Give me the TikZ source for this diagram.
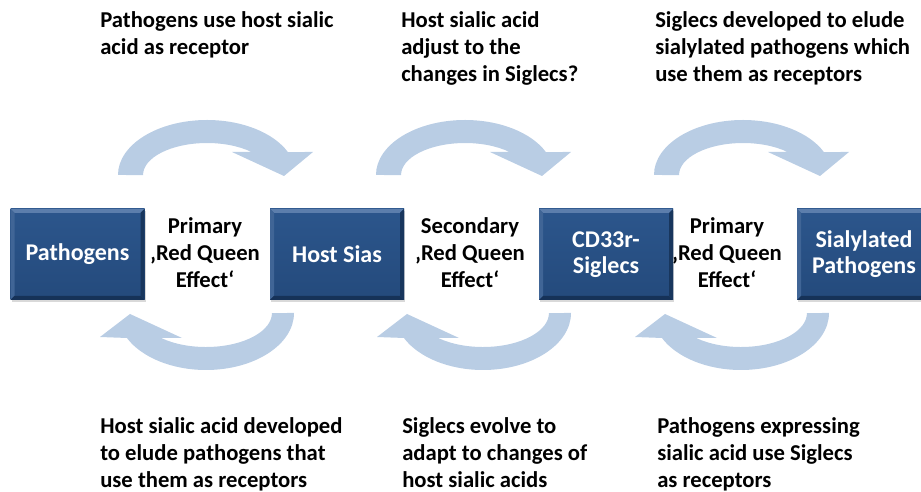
\documentclass[tikz,border=0pt]{standalone}
\usepackage{fontspec}
\setmainfont{Carlito}
\usepackage{tikz}
\usetikzlibrary{calc,shadows}

\definecolor{boxblue}{RGB}{36,74,124}
\definecolor{boxtop}{RGB}{44,86,140}
\definecolor{bevlight}{RGB}{92,126,172}
\definecolor{bevmid}{RGB}{64,101,150}
\definecolor{bevdark}{RGB}{22,50,88}
\definecolor{arrowblue}{RGB}{185,205,228}

\tikzset{
  sbox/.style={top color=boxtop, bottom color=boxblue, text=white, align=center,
    inner sep=0pt, minimum width=100.5pt, minimum height=68.25pt,
    font=\fontsize{18}{19.5}\selectfont\bfseries,
    drop shadow={opacity=0.3, shadow xshift=0.8pt, shadow yshift=-1.2pt},
    path picture={
      \path (path picture bounding box.north west) coordinate (bnw)
            (path picture bounding box.south east) coordinate (bse);
      \fill[bevlight] (bnw) -- (bnw -| bse) -- ++(-3pt,-3pt) -- ($(bnw)+(3pt,-3pt)$) -- cycle;
      \fill[bevmid] (bnw) -- (bnw |- bse) -- ++(3pt,3pt) -- ($(bnw)+(3pt,-3pt)$) -- cycle;
      \fill[bevdark] (bnw |- bse) -- (bse) -- ++(-3pt,3pt) -- ($(bnw |- bse)+(3pt,3pt)$) -- cycle;
      \fill[bevdark!85!boxblue] (bnw -| bse) -- (bse) -- ++(-3pt,3pt) -- ($(bnw -| bse)+(-3pt,-3pt)$) -- cycle;
    }},
  note/.style={anchor=north west, align=left, inner sep=0pt,
    font=\fontsize{17}{20.5}\selectfont\bfseries},
  redq/.style={anchor=north, align=center, inner sep=0pt,
    font=\fontsize{17}{20.5}\selectfont\bfseries}
}

\begin{document}
\begin{tikzpicture}[x=0.75pt, y=0.75pt]

    %% Background
    \useasboundingbox (0,0) rectangle (921,492);

    % Upper arrows
    \foreach \s in {0,258,536}
    {
    \fill[arrowblue, shift={(\s,0)}]
    (118,317) arc[start angle=180, end angle=24.7, x radius=89, y radius=55]
    -- (313,340) -- (284,316) -- (232,340) -- (251.5,340)
    arc[start angle=46, end angle=180, x radius=64, y radius=32] -- cycle;
    }

    % Lower arrows
    \foreach \s in {0,277,535}
    {
    \fill[arrowblue, shift={(\s,0)}]
    (294,179) arc[start angle=0, end angle=-154, x radius=88, y radius=57]
    -- (100,155) -- (130,178) -- (182,154) -- (161.2,154)
    arc[start angle=-132.7, end angle=0, x radius=66, y radius=34] -- cycle;
    }

    % Boxes
    \node[sbox] (pathogens) at (77.5,237.5) {Pathogens};
    \node[sbox] (hostsias) at (337,237.5) {Host Sias};
    \node[sbox] (siglecs) at (606,237.5) {CD33r-\\Siglecs};
    \node[sbox] (sialpath) at (864,237.5) {Sialylated\\Pathogens};

    % Red Queen labels
    \node[redq] (redqA) at (205,275) {Primary\\‚Red Queen\\Effect‘};
    \node[redq] (redqB) at (470,275) {Secondary\\‚Red Queen\\Effect‘};
    \node[redq] (redqC) at (727,275) {Primary\\‚Red Queen\\Effect‘};

    % Notes above
    \node[note] (noteA) at (100,481) {Pathogens use host sialic\\acid as receptor};
    \node[note] (noteB) at (401,481) {Host sialic acid\\adjust to the\\changes in Siglecs?};
    \node[note] (noteC) at (655,481) {Siglecs developed to elude\\sialylated pathogens which\\use them as receptors};

    % Notes below
    \node[note] (noteD) at (100,75) {Host sialic acid developed\\to elude pathogens that\\use them as receptors};
    \node[note] (noteE) at (402,75) {Siglecs evolve to\\adapt to changes of\\host sialic acids};
    \node[note] (noteF) at (657,75) {Pathogens expressing\\sialic acid use Siglecs\\as receptors};

\end{tikzpicture}
\end{document}
